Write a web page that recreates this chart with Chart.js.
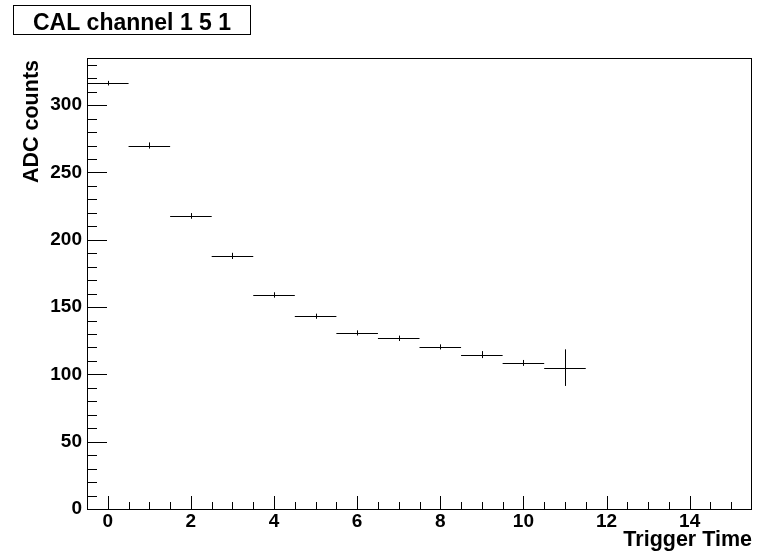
<!DOCTYPE html>
<html>
<head>
<meta charset="utf-8">
<script src="https://cdn.jsdelivr.net/npm/chart.js@4"></script>
<style>
  body { margin: 0; background: #fff; }
  #wrap { width: 760px; height: 558px; position: relative; }
</style>
</head>
<body>
<div id="wrap"><canvas id="chart"></canvas></div>
<script>
// --- DATA ---
const titleText = 'CAL channel 1 5 1';
const xTitle = 'Trigger Time';
const yTitle = 'ADC counts';
const bins = [0, 1, 2, 3, 4, 5, 6, 7, 8, 9, 10, 11];
const counts = [316.3, 270.0, 217.7, 188.0, 159.0, 143.2, 130.8, 126.8, 120.4, 114.7, 108.5, 105.0];
const errors = [1.7, 2.3, 2.1, 2.3, 2.0, 1.9, 1.9, 2.0, 1.9, 2.6, 2.2, 13.6];
const binWidth = 1;
const xTicks = [0, 2, 4, 6, 8, 10, 12, 14];
const yTicks = [0, 50, 100, 150, 200, 250, 300];
const xRange = [-0.5, 15.5];
const yRange = [0, 335];

const FONT = 'Liberation Sans, Arial, Helvetica, sans-serif';

// --- ROOT-style frame, ticks, error bars and titles ---
const rootStyle = {
    id: 'rootStyle',
    afterDatasetsDraw(chart) {
        const { ctx, chartArea: a, scales: { x, y } } = chart;
        ctx.save();
        ctx.strokeStyle = '#000';
        ctx.lineWidth = 1;

        // error bars (horizontal = bin width, vertical = error)
        bins.forEach((b, i) => {
            const px = Math.round(x.getPixelForValue(b)) + 0.5;
            const py = Math.round(y.getPixelForValue(counts[i])) + 0.5;
            const x0 = x.getPixelForValue(b - binWidth / 2);
            const x1 = x.getPixelForValue(b + binWidth / 2);
            const y0 = y.getPixelForValue(counts[i] - errors[i]);
            const y1 = y.getPixelForValue(counts[i] + errors[i]);
            ctx.beginPath();
            ctx.moveTo(x0, py); ctx.lineTo(x1, py);
            ctx.moveTo(px, y0); ctx.lineTo(px, y1);
            ctx.stroke();
        });

        // frame
        ctx.strokeRect(a.left + 0.5, a.top + 0.5, a.right - a.left - 1, a.bottom - a.top);

        // y ticks: major every 50, minor every 10
        ctx.beginPath();
        for (let v = yRange[0]; v <= yRange[1]; v += 10) {
            const py = Math.round(y.getPixelForValue(v)) + 0.5;
            const len = v % 50 === 0 ? 20 : 10;
            ctx.moveTo(a.left, py); ctx.lineTo(a.left + len, py);
        }
        // x ticks: major every 2, minor every 0.5
        for (let v = 0; v < xRange[1]; v += 0.5) {
            const px = Math.round(x.getPixelForValue(v)) + 0.5;
            const len = v % 2 === 0 ? 13 : 7;
            ctx.moveTo(px, a.bottom); ctx.lineTo(px, a.bottom - len);
        }
        ctx.stroke();

        // axis titles
        ctx.fillStyle = '#000';
        ctx.font = 'bold 21.5px ' + FONT;
        ctx.textAlign = 'right';
        ctx.textBaseline = 'alphabetic';
        ctx.fillText(xTitle, a.right, 546);
        ctx.save();
        ctx.translate(38, 60);
        ctx.rotate(-Math.PI / 2);
        ctx.fillText(yTitle, 0, 0);
        ctx.restore();

        // title box
        ctx.fillStyle = '#fff';
        ctx.fillRect(13, 5, 238, 30);
        ctx.strokeRect(13.5, 5.5, 237, 29);
        ctx.fillStyle = '#000';
        ctx.font = 'bold 23px ' + FONT;
        ctx.textAlign = 'center';
        ctx.fillText(titleText, 132, 30);
        ctx.restore();
    }
};

new Chart(document.getElementById('chart'), {
    type: 'scatter',
    data: {
        datasets: [{
            data: bins.map((b, i) => ({ x: b, y: counts[i] })),
            pointRadius: 0,
            showLine: false
        }]
    },
    options: {
        responsive: true,
        maintainAspectRatio: false,
        animation: false,
        layout: { padding: { top: 58, right: 8, left: 0, bottom: 0 } },
        plugins: { legend: { display: false }, tooltip: { enabled: false } },
        scales: {
            x: {
                type: 'linear',
                min: xRange[0],
                max: xRange[1],
                grid: { display: false, drawTicks: false },
                border: { display: false },
                afterBuildTicks: (s) => { s.ticks = xTicks.map(v => ({ value: v })); },
                afterFit: (s) => { s.height = 49; },
                ticks: {
                    maxRotation: 0,
                    autoSkip: false,
                    padding: 1,
                    color: '#000',
                    font: { family: FONT, size: 19, weight: 'bold' }
                }
            },
            y: {
                type: 'linear',
                min: yRange[0],
                max: yRange[1],
                grid: { display: false, drawTicks: false },
                border: { display: false },
                afterBuildTicks: (s) => { s.ticks = yTicks.map(v => ({ value: v })); },
                afterFit: (s) => { s.width = 87; },
                ticks: {
                    autoSkip: false,
                    padding: 5,
                    color: '#000',
                    font: { family: FONT, size: 19, weight: 'bold' }
                }
            }
        }
    },
    plugins: [rootStyle]
});
</script>
</body>
</html>
